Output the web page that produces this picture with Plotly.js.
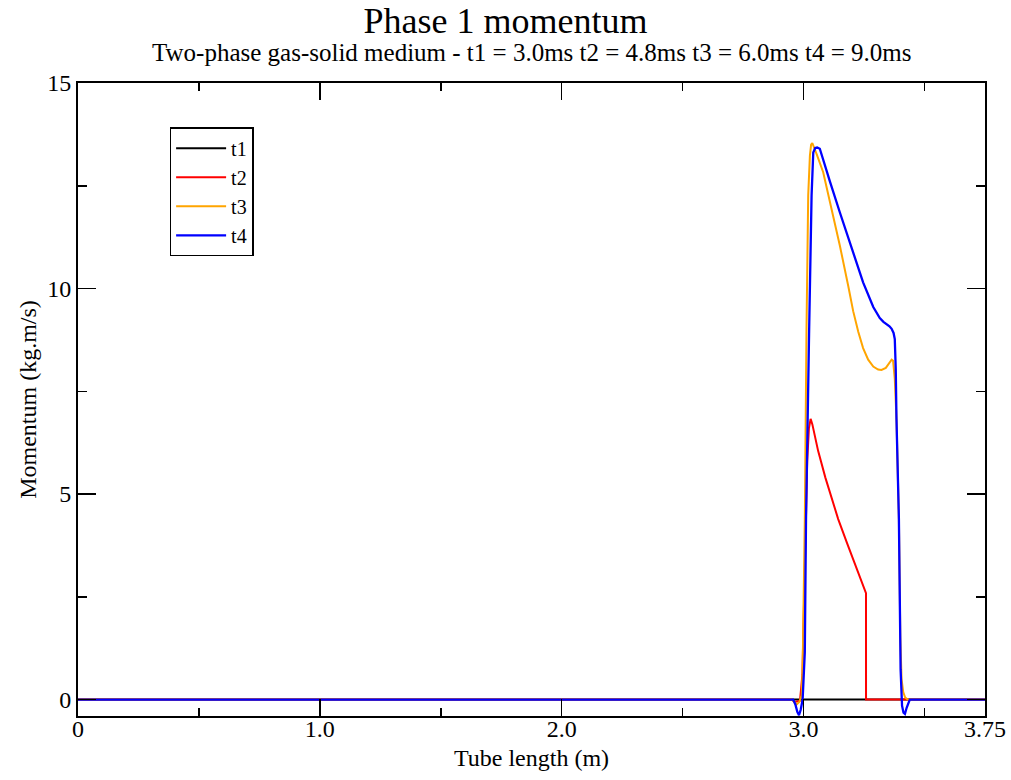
<!DOCTYPE html>
<html>
<head>
<meta charset="utf-8">
<script src="https://cdn.plot.ly/plotly-3.0.1.min.js"></script>
<style>html,body{margin:0;padding:0;background:#fff;}#chart{width:1011px;height:780px;}</style>
</head>
<body>
<div id="chart"></div>
<script>
// Series names
const seriesNames = ["t1", "t2", "t3", "t4"];
const seriesColors = ["#000000", "#ff0000", "#ffa500", "#0000ff"];

// t1 (3.0 ms): flat zero
const t1X = [0, 3.75];
const t1Y = [0, 0];

// t2 (4.8 ms)
const t2X = [0, 2.95, 2.965, 2.985, 2.995, 3.005, 3.015, 3.022, 3.029, 3.036, 3.06, 3.09, 3.12, 3.143, 3.18, 3.22, 3.258, 3.2581, 3.75];
const t2Y = [0, 0, -0.06, -0.03, 0.6, 3.0, 5.8, 6.6, 6.83, 6.70, 6.05, 5.40, 4.85, 4.39, 3.80, 3.18, 2.59, 0, 0];

// t3 (6.0 ms)
const t3X = [0, 2.950, 2.962, 2.971, 2.982, 2.992, 2.996, 3.000, 3.005, 3.012, 3.019, 3.026, 3.031, 3.036, 3.044, 3.054, 3.081, 3.116, 3.150, 3.185, 3.205, 3.226, 3.246, 3.267, 3.288, 3.308, 3.322, 3.340, 3.354, 3.364, 3.370, 3.377, 3.384, 3.394, 3.400, 3.405, 3.412, 3.420, 3.430, 3.75];
const t3Y = [0, 0, -0.06, -0.12, -0.06, 0.1, 0.74, 2.2, 4.39, 9.02, 12.26, 13.23, 13.50, 13.54, 13.43, 13.27, 12.83, 11.93, 11.04, 10.05, 9.45, 8.95, 8.55, 8.27, 8.10, 8.03, 8.02, 8.07, 8.19, 8.27, 8.24, 7.80, 6.83, 4.39, 1.5, 0.5, 0.18, 0.05, 0, 0];

// t4 (9.0 ms)
const t4X = [0, 2.957, 2.966, 2.974, 2.981, 2.988, 2.996, 3.005, 3.010, 3.016, 3.023, 3.033, 3.040, 3.048, 3.056, 3.067, 3.081, 3.109, 3.150, 3.200, 3.246, 3.288, 3.315, 3.330, 3.343, 3.355, 3.364, 3.372, 3.377, 3.381, 3.384, 3.394, 3.401, 3.407, 3.413, 3.419, 3.426, 3.439, 3.75];
const t4Y = [0, 0, -0.12, -0.30, -0.38, -0.25, 0, 1.15, 4.39, 7.0, 9.02, 12.26, 13.31, 13.42, 13.43, 13.40, 13.15, 12.60, 11.85, 10.95, 10.15, 9.55, 9.28, 9.19, 9.14, 9.08, 9.02, 8.92, 8.77, 8.04, 6.83, 4.39, 0.74, -0.15, -0.32, -0.35, -0.2, 0, 0];

// Tick labels
const xTickVals = [0, 1, 2, 3, 3.75];
const xTickText = ["0", "1.0", "2.0", "3.0", "3.75"];
const yTickVals = [0, 5, 10, 15];
const yTickText = ["0", "5", "10", "15"];

const titleText = "Phase 1 momentum";
const subtitleText = "Two-phase gas-solid medium - t1 = 3.0ms t2 = 4.8ms t3 = 6.0ms t4 = 9.0ms";
const xTitle = "Tube length (m)";
const yTitle = "Momentum (kg.m/s)";

const FONT = "Liberation Serif, Times New Roman, serif";
const xs = [t1X, t2X, t3X, t4X];
const ys = [t1Y, t2Y, t3Y, t4Y];

const traces = seriesNames.map((n, i) => ({
  x: xs[i], y: ys[i], name: n, type: "scatter", mode: "lines",
  line: {color: seriesColors[i], width: i === 3 ? 2.3 : 2}
}));

const layout = {
  width: 1011, height: 780,
  margin: {l: 78, r: 26, t: 83, b: 64},
  paper_bgcolor: "#fff", plot_bgcolor: "#fff",
  font: {family: FONT, color: "#000", size: 24},
  title: {text: titleText, font: {family: FONT, size: 36, color: "#000"}, x: 0.5, xanchor: "center", y: 1 - 20/780, yref: "container", yanchor: "middle"},
  annotations: [{
    text: subtitleText, xref: "paper", yref: "paper", x: 0.5, y: (716 - 53) / 633,
    xanchor: "center", yanchor: "middle", showarrow: false,
    font: {family: FONT, size: 25, color: "#000"}
  }],
  showlegend: true,
  legend: {
    x: 0.101, y: 0.930, xanchor: "left", yanchor: "top",
    bgcolor: "#fff", bordercolor: "#000", borderwidth: 1.5,
    font: {family: FONT, size: 20, color: "#000"}, tracegroupgap: 0,
    itemwidth: 50
  },
  xaxis: {
    range: [0, 3.75], showgrid: false, zeroline: false,
    showline: true, linecolor: "#000", linewidth: 2, mirror: "allticks",
    ticks: "inside", ticklen: 17, tickwidth: 1.5, tickcolor: "#000",
    tickmode: "array", tickvals: xTickVals, ticktext: xTickText,
    tickfont: {family: FONT, size: 24, color: "#000"}, ticklabelstandoff: -10,
    minor: {dtick: 0.5, tick0: 0, ticks: "inside", ticklen: 8, tickwidth: 1.5, tickcolor: "#000", showgrid: false},
    title: {text: xTitle, font: {family: FONT, size: 24, color: "#000"}, standoff: 8}
  },
  yaxis: {
    range: [-0.4, 15], showgrid: false, zeroline: false,
    showline: true, linecolor: "#000", linewidth: 2, mirror: "allticks",
    ticks: "inside", ticklen: 18, tickwidth: 1.5, tickcolor: "#000",
    tickmode: "array", tickvals: yTickVals, ticktext: yTickText,
    tickfont: {family: FONT, size: 24, color: "#000"},
    minor: {dtick: 2.5, tick0: 0, ticks: "inside", ticklen: 9, tickwidth: 1.5, tickcolor: "#000", showgrid: false},
    title: {text: yTitle, font: {family: FONT, size: 24, color: "#000"}, standoff: 4}
  }
};

Plotly.newPlot("chart", traces, layout, {displayModeBar: false, staticPlot: true});
</script>
</body>
</html>
